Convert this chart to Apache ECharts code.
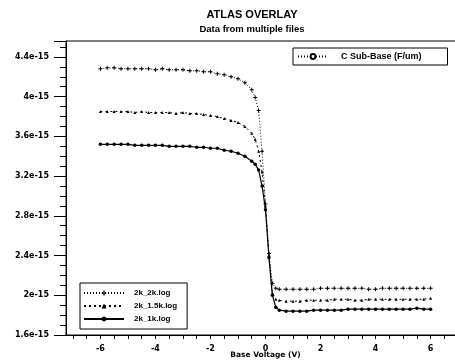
<!DOCTYPE html>
<html>
<head>
<meta charset="utf-8">
<script src="https://cdn.jsdelivr.net/npm/echarts@6/dist/echarts.min.js"></script>
<style>
  html, body { margin: 0; padding: 0; background: #fff; }
  #chart { width: 455px; height: 363px; }
</style>
</head>
<body>
<div id="chart"></div>
<script>
// base voltage (V)
var baseVoltage = [-6, -5.75, -5.5, -5.25, -5, -4.75, -4.5, -4.25, -4, -3.75, -3.5, -3.25, -3,
  -2.75, -2.5, -2.25, -2, -1.75, -1.5, -1.25, -1, -0.75, -0.5,
  -0.375, -0.25, -0.125, 0, 0.125, 0.25, 0.375,
  0.5, 0.75, 1, 1.25, 1.5, 1.75, 2, 2.25, 2.5, 2.75, 3, 3.25, 3.5, 3.75,
  4, 4.25, 4.5, 4.75, 5, 5.25, 5.5, 5.75, 6];

// C Sub-Base, in units of 1e-15
var c2k2k = [4.28, 4.29, 4.29, 4.28, 4.28, 4.28, 4.28, 4.28, 4.27, 4.28, 4.27, 4.27, 4.27,
  4.26, 4.26, 4.25, 4.25, 4.23, 4.22, 4.20, 4.18, 4.14, 4.07,
  3.99, 3.86, 3.45, 2.92, 2.42, 2.12, 2.07,
  2.06, 2.06, 2.06, 2.06, 2.06, 2.06, 2.07, 2.07, 2.07, 2.07, 2.07, 2.07, 2.07, 2.06,
  2.06, 2.07, 2.07, 2.07, 2.07, 2.07, 2.07, 2.07, 2.07];
var c2k15k = [3.85, 3.85, 3.85, 3.85, 3.85, 3.84, 3.85, 3.84, 3.84, 3.84, 3.84, 3.83, 3.84,
  3.83, 3.83, 3.82, 3.81, 3.80, 3.78, 3.76, 3.74, 3.70, 3.63,
  3.57, 3.45, 3.24, 2.90, 2.40, 2.02, 1.96,
  1.95, 1.94, 1.94, 1.94, 1.95, 1.95, 1.95, 1.95, 1.96, 1.96, 1.96, 1.95, 1.95, 1.96,
  1.96, 1.96, 1.96, 1.96, 1.96, 1.96, 1.96, 1.96, 1.97];
var c2k1k = [3.52, 3.52, 3.52, 3.52, 3.52, 3.51, 3.51, 3.51, 3.51, 3.51, 3.50, 3.50, 3.50,
  3.50, 3.49, 3.49, 3.48, 3.48, 3.46, 3.45, 3.43, 3.40, 3.35,
  3.32, 3.26, 3.10, 2.86, 2.38, 2.00, 1.88,
  1.85, 1.84, 1.84, 1.84, 1.84, 1.85, 1.85, 1.85, 1.85, 1.85, 1.86, 1.86, 1.86, 1.86,
  1.86, 1.86, 1.86, 1.86, 1.86, 1.86, 1.87, 1.86, 1.86];

var seriesNames = ['2k_2k.log', '2k_1.5k.log', '2k_1k.log'];
var quantityName = 'C Sub-Base (F/um)';

var xLabels = [-6, -4, -2, 0, 2, 4, 6];
var xTicks = [-7, -6.5, -6, -5.5, -5, -4.5, -4, -3.5, -3, -2.5, -2, -1.5, -1, -0.5,
  0, 0.5, 1, 1.5, 2, 2.5, 3, 3.5, 4, 4.5, 5, 5.5, 6, 6.5, 7];

function pairs(ys) {
  return baseVoltage.map(function (x, i) { return [x, ys[i]]; });
}

var font = 'Liberation Sans';
var axisFont = 'DejaVu Sans';
var plus = 'path://M-1,-4H1V-1H4V1H1V4H-1V1H-4V-1H-1Z';

var chart = echarts.init(document.getElementById('chart'), null, { renderer: 'canvas' });
chart.setOption({
  animation: false,
  backgroundColor: '#fff',
  textStyle: { fontFamily: font, color: '#000' },
  title: {
    text: 'ATLAS OVERLAY',
    subtext: 'Data from multiple files',
    left: 247,
    textAlign: 'center',
    top: 4,
    itemGap: 4,
    textStyle: { fontFamily: font, fontSize: 11, fontWeight: 'bold', color: '#000' },
    subtextStyle: { fontFamily: font, fontSize: 9.5, fontWeight: 'bold', color: '#000' }
  },
  legend: [
    {
      data: seriesNames,
      orient: 'vertical',
      left: 80,
      top: 283,
      itemWidth: 40,
      itemHeight: 6,
      itemGap: 5,
      padding: [6, 10, 6, 3],
      borderColor: '#000',
      borderWidth: 1,
      textStyle: { fontFamily: font, fontSize: 8, fontWeight: 'bold', color: '#000', padding: [0, 0, 0, 5] }
    },
    {
      data: [quantityName],
      left: 293,
      top: 48,
      itemWidth: 30,
      itemHeight: 6,
      padding: [4, 26, 4, 4],
      borderColor: '#000',
      borderWidth: 1,
      textStyle: { fontFamily: font, fontSize: 9, fontWeight: 'bold', color: '#000', padding: [0, 0, 0, 8] }
    }
  ],
  grid: {
    left: 66,
    top: 41,
    width: 399,
    bottom: 28,
    outerBoundsMode: 'none',
    containLabel: false,
    show: true,
    borderColor: '#000',
    borderWidth: 1
  },
  xAxis: {
    type: 'value',
    min: -7.25,
    max: 7.25,
    name: 'Base Voltage (V)',
    nameLocation: 'middle',
    nameGap: 16,
    nameMoveOverlap: false,
    nameTextStyle: { fontFamily: axisFont, fontSize: 7.5, fontWeight: 'bold', color: '#000' },
    splitLine: { show: false },
    axisLine: { onZero: false, lineStyle: { color: '#000', width: 1 } },
    axisTick: { customValues: xTicks, length: 4, lineStyle: { color: '#000' } },
    axisLabel: {
      customValues: xLabels,
      margin: 10,
      fontFamily: axisFont,
      fontSize: 8,
      fontWeight: 'bold',
      color: '#000'
    }
  },
  yAxis: {
    type: 'value',
    min: 1.6,
    max: 4.56,
    interval: 0.4,
    splitLine: { show: false },
    axisLine: { show: true, onZero: false, lineStyle: { color: '#000', width: 1 } },
    axisTick: { length: 12, lineStyle: { color: '#000' } },
    minorTick: { show: true, splitNumber: 4, length: 6, lineStyle: { color: '#000' } },
    minorSplitLine: { show: false },
    axisLabel: {
      margin: 17,
      fontFamily: axisFont,
      fontSize: 8,
      fontWeight: 'bold',
      color: '#000',
      showMaxLabel: false,
      formatter: function (v) {
        return (Math.round(v * 10) / 10) + 'e-15';
      }
    }
  },
  series: [
    {
      name: seriesNames[0],
      type: 'line',
      data: pairs(c2k2k),
      symbol: plus,
      symbolSize: 4,
      itemStyle: { color: '#000' },
      lineStyle: { color: '#000', width: 1, type: [1, 2] }
    },
    {
      name: seriesNames[1],
      type: 'line',
      data: pairs(c2k15k),
      symbol: 'triangle',
      symbolSize: 3,
      itemStyle: { color: '#000' },
      lineStyle: { color: '#000', width: 1, type: [2, 3] }
    },
    {
      name: seriesNames[2],
      type: 'line',
      data: pairs(c2k1k),
      symbol: 'circle',
      symbolSize: 3.5,
      itemStyle: { color: '#000' },
      lineStyle: { color: '#000', width: 1.2 }
    },
    {
      name: quantityName,
      type: 'line',
      data: [],
      symbol: 'emptyCircle',
      symbolSize: 4,
      itemStyle: { color: '#000' },
      lineStyle: { color: '#000', width: 1, type: [1, 2] }
    }
  ]
});
</script>
</body>
</html>
